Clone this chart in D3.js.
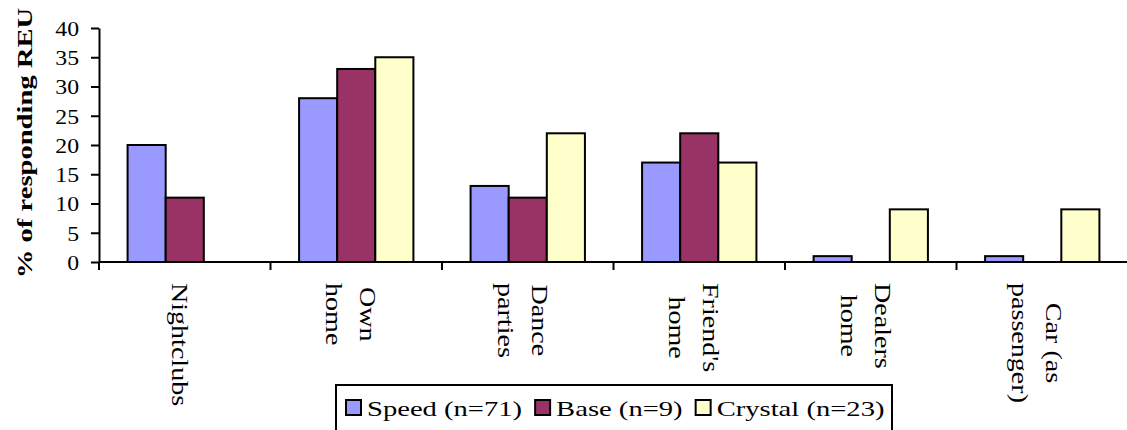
<!DOCTYPE html>
<html>
<head>
<meta charset="utf-8">
<script src="https://cdn.jsdelivr.net/npm/d3@7/dist/d3.min.js"></script>
<style>
  html, body { margin: 0; padding: 0; background: #fff; }
  svg { display: block; }
  text { font-family: "Liberation Serif", "Times New Roman", serif; fill: #000; }
</style>
</head>
<body>
<svg id="chart" width="1127" height="430"></svg>
<script>
// Locations where the drug was used, one entry per category (lines of the label)
const categories = ["Nightclubs", "Own home", "Dance parties", "Friend's home", "Dealers home", "Car (as passenger)"];
const categoryLines = [["Nightclubs"], ["Own", "home"], ["Dance", "parties"], ["Friend's", "home"], ["Dealers", "home"], ["Car (as", "passenger)"]];

// % of responding REU per group
const seriesNames = ["Speed (n=71)", "Base (n=9)", "Crystal (n=23)"];
const speedValues = [20, 28, 13, 17, 1, 1];
const baseValues = [11, 33, 11, 22, 0, 0];
const crystalValues = [0, 35, 22, 17, 9, 9];
const yTicks = [0, 5, 10, 15, 20, 25, 30, 35, 40];
const yTitle = "% of responding REU";

const seriesValues = [speedValues, baseValues, crystalValues];
const colors = ["#9999FF", "#993366", "#FFFFCC"];

const svg = d3.select("#chart");
const plotLeft = 99, plotRight = 1128, plotTop = 28, plotBottom = 262;

// Glyph widening along the text direction to get a wide old-style serif look
function widen(sel, k) {
  sel.each(function () {
    const len = this.getComputedTextLength();
    d3.select(this).attr("textLength", len * k).attr("lengthAdjust", "spacingAndGlyphs");
  });
}

const x0 = d3.scaleBand().domain(categories).range([plotLeft, plotRight])
  .paddingInner(1 / 3).paddingOuter(1 / 6);
const x1 = d3.scaleBand().domain(seriesNames).range([0, x0.bandwidth()]);
const y = d3.scaleLinear().domain([0, 40]).range([plotBottom, plotTop]);

// Bars
const groups = svg.append("g").selectAll("g")
  .data(categories)
  .join("g")
  .attr("transform", d => `translate(${x0(d)},0)`);

groups.selectAll("rect")
  .data((d, i) => seriesNames.map((s, j) => ({ s, j, v: seriesValues[j][i] })).filter(e => e.v > 0))
  .join("rect")
  .attr("x", d => x1(d.s))
  .attr("y", d => y(d.v))
  .attr("width", x1.bandwidth())
  .attr("height", d => y(0) - y(d.v))
  .attr("fill", d => colors[d.j])
  .attr("stroke", "#000")
  .attr("stroke-width", 2);

// Y axis
const yAxis = svg.append("g")
  .attr("transform", `translate(${plotLeft},0)`)
  .call(d3.axisLeft(y).tickValues(yTicks).tickSize(8).tickSizeOuter(0).tickPadding(12));
yAxis.select(".domain").attr("stroke", "#000").attr("stroke-width", 2);
yAxis.selectAll(".tick line").attr("stroke", "#000").attr("stroke-width", 2);
yAxis.selectAll(".tick text")
  .attr("font-size", 22)
  .attr("dy", "0.34em")
  .each(function () { widen(d3.select(this), 1.08); });

// X axis baseline with ticks on category boundaries
const step = x0.step();
const bounds = d3.range(categories.length + 1).map(i => plotLeft + i * step);
svg.append("line")
  .attr("x1", plotLeft).attr("x2", plotRight)
  .attr("y1", plotBottom).attr("y2", plotBottom)
  .attr("stroke", "#000").attr("stroke-width", 2);
svg.append("g").selectAll("line")
  .data(bounds)
  .join("line")
  .attr("x1", d => d).attr("x2", d => d)
  .attr("y1", plotBottom).attr("y2", plotBottom + 8)
  .attr("stroke", "#000").attr("stroke-width", 2);

// Category labels, rotated to read downward
const labelTop = 283, lineGap = 34;
categoryLines.forEach((lines, i) => {
  const c = x0(categories[i]) + x0.bandwidth() / 2;
  const g = svg.append("g");
  const texts = lines.map((ln, j) => {
    const bx = c - 13 + (lines.length - 1) * lineGap / 2 - j * lineGap;
    return g.append("text")
      .attr("font-size", 23)
      .attr("text-anchor", "middle")
      .attr("data-bx", bx)
      .text(ln);
  });
  texts.forEach(t => widen(t, 1.22));
  const maxLen = d3.max(texts, t => +t.attr("textLength"));
  texts.forEach(t => {
    t.attr("transform", `translate(${t.attr("data-bx")},${labelTop + maxLen / 2}) rotate(90)`);
  });
});

// Y axis title
const title = svg.append("text")
  .attr("font-size", 22)
  .attr("font-weight", "bold")
  .attr("text-anchor", "middle")
  .attr("transform", "translate(32,143) rotate(-90)")
  .text(yTitle);
widen(title, 1.3);

// Legend
const legend = svg.append("g");
legend.append("rect")
  .attr("x", 336).attr("y", 385)
  .attr("width", 556).attr("height", 60)
  .attr("fill", "#fff").attr("stroke", "#000").attr("stroke-width", 2);
let lx = 346;
seriesNames.forEach((name, j) => {
  legend.append("rect")
    .attr("x", lx).attr("y", 400)
    .attr("width", 15).attr("height", 15)
    .attr("fill", colors[j]).attr("stroke", "#000").attr("stroke-width", 2);
  const t = legend.append("text")
    .attr("x", lx + 21).attr("y", 416)
    .attr("font-size", 22)
    .text(name);
  widen(t, 1.3);
  lx = lx + 21 + (+t.attr("textLength")) + 13;
});
</script>
</body>
</html>
